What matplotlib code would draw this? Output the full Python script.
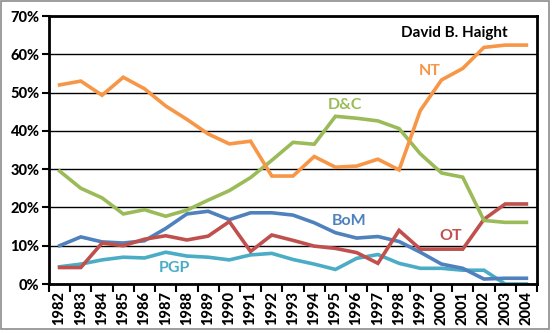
import matplotlib
matplotlib.use("Agg")
import matplotlib.pyplot as plt
from matplotlib.patches import Rectangle
import numpy as np

years = [str(y) for y in range(1982, 2005)]
nt = [52, 53, 49.3, 54, 51, 46.5, 43, 39.2, 36.6, 37.3, 28.2, 28.2, 33.3, 30.5, 30.8, 32.6, 29.8,
      45.3, 53.3, 56.3, 61.8, 62.4, 62.4]
dc = [29.5, 25, 22.5, 18.3, 19.4, 17.7, 19.3, 21.9, 24.4, 27.8, 32.3, 37, 36.5, 43.8, 43.3, 42.6,
      40.6, 34, 29, 27.9, 16.6, 16.1, 16.1]
bom = [10, 12.3, 11, 10.7, 11.3, 14.5, 18.3, 19, 16.8, 18.6, 18.6, 18, 16, 13.4, 12, 12.4, 11.1,
       8.3, 5.2, 4.1, 1.3, 1.5, 1.5]
ot = [4.3, 4.3, 10.7, 10, 11.7, 12.6, 11.5, 12.5, 16.3, 8.5, 12.8, 11.4, 9.9, 9.3, 8.2, 5.4, 14,
      9.1, 9.1, 9.1, 16.9, 20.9, 20.9]
pgp = [4.5, 5.2, 6.3, 7, 6.8, 8.3, 7.3, 7, 6.3, 7.6, 8, 6.4, 5.2, 3.8, 6.7, 7.7, 5.4, 4.1, 4.1,
       3.6, 3.6, 0, 0]

c_nt = "#F79646"
c_dc = "#9BBB59"
c_bom = "#4F81BD"
c_ot = "#C0504D"
c_pgp = "#4BACC6"

plt.rcParams['font.family'] = ['Lato', 'DejaVu Sans']

fig = plt.figure(figsize=(5.53, 3.33), dpi=100)
W, H = 553, 333
ax = fig.add_axes([49 / W, 1 - 284 / H, (537 - 49) / W, (284 - 16) / H])

fig.patches.append(Rectangle((1 / W, 4 / H), 548 / W, 328 / H, transform=fig.transFigure,
                             fill=False, edgecolor="#8C8C8C", linewidth=1.2))

x = np.arange(len(years))
for vals, col in [(pgp, c_pgp), (bom, c_bom), (ot, c_ot), (dc, c_dc), (nt, c_nt)]:
    ax.plot(x, np.array(vals) / 100, color=col, linewidth=2.6, solid_joinstyle="miter")

ax.set_xlim(-0.5, len(years) - 0.5)
ax.set_ylim(0, 0.7)
ax.set_yticks(np.arange(0, 0.71, 0.1))
ax.set_yticklabels([f"{int(round(v*100))}%" for v in np.arange(0, 0.71, 0.1)],
                   fontsize=10.5, fontweight="black")
ax.yaxis.grid(True, color="black", linewidth=1)
ax.set_axisbelow(True)
ax.set_xticks(x)
ax.set_xticklabels(years, rotation=90, fontsize=10.5, fontweight="black")
ax.set_xticks(np.arange(-0.5, len(years), 1), minor=True)
ax.tick_params(axis="x", which="major", length=0, pad=5)
ax.tick_params(axis="x", which="minor", length=6, width=1.5, direction="out")
ax.tick_params(axis="y", length=5, width=1.5, direction="out", pad=2)
for s in ax.spines.values():
    s.set_linewidth(2)
    s.set_color("black")

def lab(px, py, text, col, size=11.5):
    fig.text(px / W, 1 - py / H, text, color=col, fontsize=size, fontweight="bold",
             ha="center", va="center")

lab(430, 71, "NT", c_nt)
lab(345, 105, "D&C", c_dc)
lab(349, 221, "BoM", c_bom)
lab(451, 236, "OT", c_ot)
lab(174, 268, "PGP", c_pgp)
lab(454, 33, "David B. Haight", "black", 11)

fig.savefig("out.png", dpi=100)
